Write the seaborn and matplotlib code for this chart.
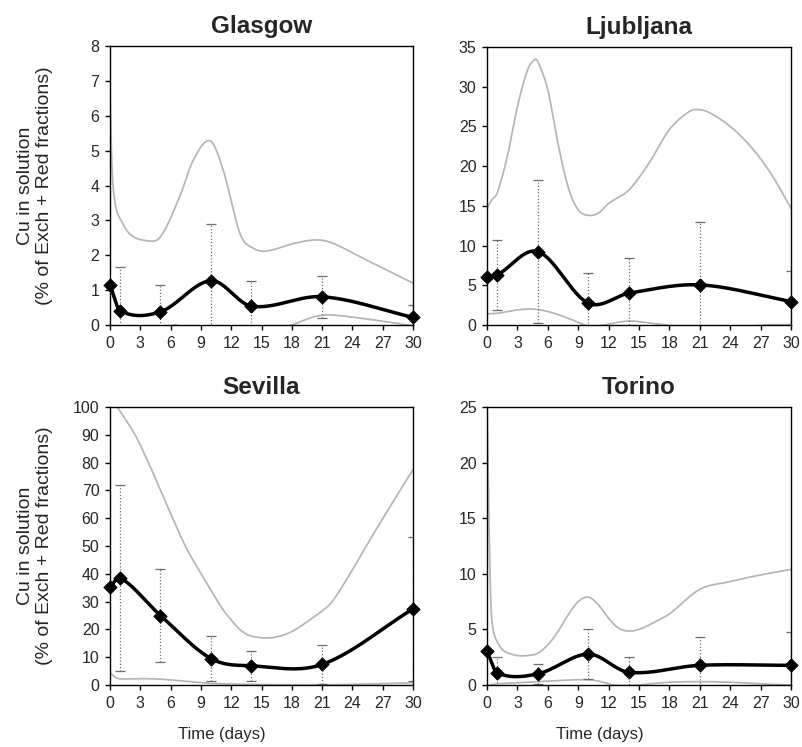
import numpy as np
import pandas as pd
import matplotlib
matplotlib.use("Agg")
import matplotlib.pyplot as plt
import seaborn as sns

# ---------------- data ----------------
DAYS = [0, 1, 5, 10, 14, 21, 30]
XTICKS = [0, 3, 6, 9, 12, 15, 18, 21, 24, 27, 30]

CITIES = ["Glasgow", "Ljubljana", "Sevilla", "Torino"]

# mean Cu in solution (% of Exch + Red fractions)
GLA_MEAN = [1.15, 0.41, 0.38, 1.27, 0.54, 0.81, 0.22]
LJU_MEAN = [6.05, 6.3, 9.25, 2.75, 4.0, 5.05, 2.95]
SEV_MEAN = [35.1, 38.6, 25.0, 9.5, 6.9, 7.4, 27.4]
TOR_MEAN = [3.05, 1.1, 1.0, 2.78, 1.14, 1.77, 1.77]

# error bar half-lengths (nan = not visible)
GLA_ERR = [np.nan, 1.26, 0.77, 1.62, 0.73, 0.60, 0.35]
LJU_ERR = [np.nan, 4.4, 9.0, 3.8, 4.4, 7.9, 3.9]
SEV_ERR = [np.nan, 33.5, 16.6, 8.1, 5.3, 7.0, 25.9]
TOR_ERR = [np.nan, 1.45, 0.89, 2.27, 1.41, 2.51, 3.02]

# upper / lower grey band curves (read at a few x positions)
GLA_UP_X = [0, 0.2, 0.5, 1, 2, 3.6, 5, 6.9, 8.25, 9.9, 11.2, 12.9, 14.2, 15.5, 18.2, 20.5, 22.1, 25.4, 28.7, 30]
GLA_UP_Y = [6.7, 4.5, 3.5, 3.05, 2.6, 2.42, 2.53, 3.68, 4.73, 5.28, 4.45, 2.6, 2.2, 2.12, 2.34, 2.44, 2.34, 1.86, 1.39, 1.2]
GLA_LO_X = [0, 1, 3, 6, 7, 8.5, 10, 12, 14, 16, 18, 20, 21.5, 23, 26, 28, 30]
GLA_LO_Y = [-3.0, -1.5, -0.4, -0.02, -0.05, -0.6, -1.5, -1.2, -0.6, -0.2, 0.0, 0.22, 0.29, 0.26, 0.15, 0.06, -0.02]

LJU_UP_X = [0, 0.5, 1, 2, 3, 4, 4.7, 5, 6, 7, 8, 9, 10, 11, 12, 14, 16, 18, 20, 21, 22, 24, 26, 28, 30]
LJU_UP_Y = [14.7, 15.8, 16.6, 21.2, 27.5, 32.1, 33.4, 33.2, 29.6, 22.9, 17.4, 14.5, 13.8, 14.1, 15.3, 17.0, 20.4, 24.6, 26.9, 27.1, 26.7, 25.0, 22.5, 19.1, 14.7]
LJU_LO_X = [0, 1, 3, 4.5, 6, 8, 9.5, 10.5, 11.5, 14, 16, 18, 21, 25, 27.5, 30]
LJU_LO_Y = [1.4, 1.47, 1.9, 2.0, 1.7, 0.85, 0.08, -0.2, 0.0, 0.5, 0.25, -0.05, -0.3, -0.2, 0.02, 0.05]

SEV_UP_X = [0, 1, 1.6, 2.6, 4, 5, 6, 7.5, 9, 10, 11, 12, 13, 14, 16, 18, 20, 21.1, 22, 23.8, 25.7, 27.7, 30]
SEV_UP_Y = [104, 98.5, 95.2, 89.2, 78.4, 70.1, 61.7, 49.7, 40.1, 34.1, 28.1, 23.4, 19.5, 17.6, 17.0, 19.2, 24.0, 26.9, 30.0, 40.2, 52.0, 64.0, 77.5]
SEV_LO_X = [0, 0.5, 1, 3, 5, 7, 10, 14, 18, 21, 25, 30]
SEV_LO_Y = [4.5, 2.8, 2.2, 2.3, 2.1, 1.5, 0.6, 0.2, 0.1, 0.1, 0.3, 0.8]

TOR_UP_X = [0, 0.1, 0.25, 0.4, 0.6, 1, 1.5, 2, 3, 4, 5, 6, 7, 8, 9, 10, 11, 12, 13, 14, 15, 16, 18, 21, 24, 27, 30]
TOR_UP_Y = [26, 20, 12, 7, 5, 3.9, 3.2, 2.9, 2.65, 2.65, 2.85, 3.6, 4.8, 6.3, 7.5, 7.9, 7.2, 6.0, 5.1, 4.85, 5.0, 5.4, 6.4, 8.6, 9.3, 9.9, 10.4]
TOR_LO_X = [0, 1, 3, 5, 8, 10, 11, 12.5, 14, 16, 18, 21, 24, 27, 30]
TOR_LO_Y = [0.0, 0.1, 0.2, 0.3, 0.45, 0.47, 0.35, 0.0, -0.05, 0.1, 0.25, 0.3, 0.25, 0.1, 0.0]

YMAX = [8, 35, 100, 25]
YSTEP = [1, 5, 10, 5]

YLABEL = "Cu in solution\n(% of Exch + Red fractions)"
XLABEL = "Time (days)"


# ---------------- helpers ----------------
def smooth(x, y, n=600):
    """Cubic Hermite curve through the points (display smoothing)."""
    x = np.asarray(x, float)
    y = np.asarray(y, float)
    m = np.empty_like(y)
    m[1:-1] = (y[2:] - y[:-2]) / (x[2:] - x[:-2])
    m[0] = (y[1] - y[0]) / (x[1] - x[0])
    m[-1] = (y[-1] - y[-2]) / (x[-1] - x[-2])
    xs = np.linspace(x[0], x[-1], n)
    i = np.clip(np.searchsorted(x, xs, side="right") - 1, 0, len(x) - 2)
    h = x[i + 1] - x[i]
    t = (xs - x[i]) / h
    h00 = 2 * t**3 - 3 * t**2 + 1
    h10 = t**3 - 2 * t**2 + t
    h01 = -2 * t**3 + 3 * t**2
    h11 = t**3 - t**2
    ys = h00 * y[i] + h10 * h * m[i] + h01 * y[i + 1] + h11 * h * m[i + 1]
    return pd.DataFrame({"day": xs, "value": ys})


sns.set_style("ticks")
plt.rcParams["font.family"] = ["Liberation Sans", "DejaVu Sans"]
plt.rcParams["axes.linewidth"] = 1.0

fig = plt.figure(figsize=(8.03, 7.47), dpi=100)
W, H = 803.0, 747.0
boxes = [(110, 46, 303, 279), (487, 47, 304, 278), (110, 407, 303, 278), (487, 407, 304, 278)]

means = [GLA_MEAN, LJU_MEAN, SEV_MEAN, TOR_MEAN]
errs = [GLA_ERR, LJU_ERR, SEV_ERR, TOR_ERR]
ups = [(GLA_UP_X, GLA_UP_Y), (LJU_UP_X, LJU_UP_Y), (SEV_UP_X, SEV_UP_Y), (TOR_UP_X, TOR_UP_Y)]
los = [(GLA_LO_X, GLA_LO_Y), (LJU_LO_X, LJU_LO_Y), (SEV_LO_X, SEV_LO_Y), (TOR_LO_X, TOR_LO_Y)]

GREY = "#b5b5b5"

for k, city in enumerate(CITIES):
    x0, y0, w, h = boxes[k]
    ax = fig.add_axes([x0 / W, 1 - (y0 + h) / H, w / W, h / H])

    for (bx, by) in (ups[k], los[k]):
        sns.lineplot(data=smooth(bx, by), x="day", y="value", ax=ax, color=GREY,
                     lw=1.25, estimator=None, sort=False, zorder=1)

    d = np.array(DAYS, float)
    mval = np.array(means[k], float)
    e = np.array(errs[k], float)
    ok = ~np.isnan(e)
    eb = ax.errorbar(d[ok], mval[ok], yerr=e[ok], fmt="none", ecolor="#6e6e6e",
                     elinewidth=0.9, capsize=3.5, capthick=0.9, zorder=2)
    for lc in eb[2]:
        lc.set_linestyle((0, (1, 1.6)))
    for cl in eb[1]:
        cl.set_color("#a0a0a0")

    sns.lineplot(data=smooth(DAYS, means[k]), x="day", y="value", ax=ax,
                 color="black", lw=2.5, estimator=None, sort=False, zorder=3)
    sns.scatterplot(x=DAYS, y=means[k], ax=ax, marker="D", s=46, color="black",
                    edgecolor="black", linewidth=0.6, zorder=4, clip_on=False)

    ax.set_xlim(0, 30)
    ax.set_ylim(0, YMAX[k])
    ax.set_xticks(XTICKS)
    ax.set_yticks(np.arange(0, YMAX[k] + 0.01, YSTEP[k]))
    ax.tick_params(axis="both", direction="out", length=3.6, width=1.0,
                   labelsize=11.5, pad=4, top=False, right=False, color="black")
    for sp in ax.spines.values():
        sp.set_visible(True)
        sp.set_color("black")
        sp.set_linewidth(1.0)

    ax.set_title(city, fontsize=17.5, fontweight="bold", pad=9.5)
    if k in (0, 2):
        ax.set_ylabel(YLABEL, fontsize=14, linespacing=1.12)
        ax.yaxis.set_label_coords(-0.188, 0.5)
    else:
        ax.set_ylabel("")
    if k in (2, 3):
        ax.set_xlabel(XLABEL, fontsize=12)
        ax.xaxis.set_label_coords(0.37, -0.15)
    else:
        ax.set_xlabel("")

fig.savefig("out.png", dpi=100)
